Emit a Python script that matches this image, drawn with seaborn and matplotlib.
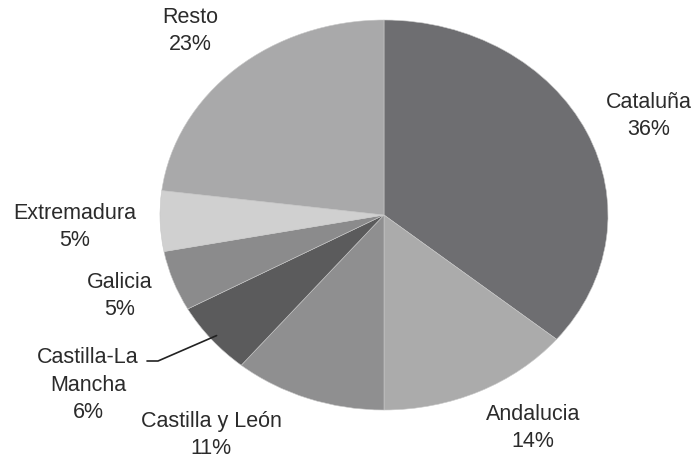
import matplotlib
matplotlib.use("Agg")
import matplotlib.pyplot as plt
from matplotlib.lines import Line2D
import numpy as np
import seaborn as sns

# data
regions = ["Cataluña", "Andalucia", "Castilla y León", "Castilla-La\nMancha",
           "Galicia", "Extremadura", "Resto"]
shares = [36, 14, 11, 6, 5, 5, 23]
colors = ["#6e6e71", "#ababab", "#8f8f90", "#5b5b5c", "#8b8b8c", "#d0d0d0", "#a9a9aa"]

# label centres in pixels (x, y from top)
label_pos = [(649, 116), (533, 428), (211, 435), (88, 385),
             (120, 296), (75, 227), (190, 31)]

W, H = 698, 461

sns.set_style("white")
plt.rcParams['font.family'] = ['Liberation Sans', 'DejaVu Sans']

fig = plt.figure(figsize=(W / 100, H / 100), dpi=100)
fig.patch.set_facecolor("white")

# pie is drawn as an ellipse: axes box = ellipse bounding box
left, right, top, bottom = 160, 608, 20, 410
ax = fig.add_axes([left / W, 1 - bottom / H, (right - left) / W, (bottom - top) / H])

wedges, _ = ax.pie(shares, colors=colors, startangle=90, counterclock=False,
                   radius=1, wedgeprops=dict(linewidth=0.4, edgecolor="#c8c8c8"))
ax.set_aspect("auto")
ax.set_xlim(-1, 1)
ax.set_ylim(-1, 1)
ax.axis("off")

for name, pct, (px, py) in zip(regions, shares, label_pos):
    fig.text(px / W, 1 - py / H, f"{name}\n{pct}%", ha="center", va="center",
             fontsize=15.5, color="#2b2b2b", linespacing=1.4)

# leader line for Castilla-La Mancha: short horizontal stub, then to the wedge
w = wedges[3]
mid = np.deg2rad((w.theta1 + w.theta2) / 2)
tip = ax.transData.transform((0.97 * np.cos(mid), 0.97 * np.sin(mid)))
tx, ty = tip[0] / W, tip[1] / H
xs = [147 / W, 158 / W, tx]
ys = [1 - 361 / H, 1 - 361 / H, ty]
fig.add_artist(Line2D(xs, ys, transform=fig.transFigure, color="#222222", lw=1.2))

fig.savefig("out.png", dpi=100, facecolor="white")
plt.close(fig)
